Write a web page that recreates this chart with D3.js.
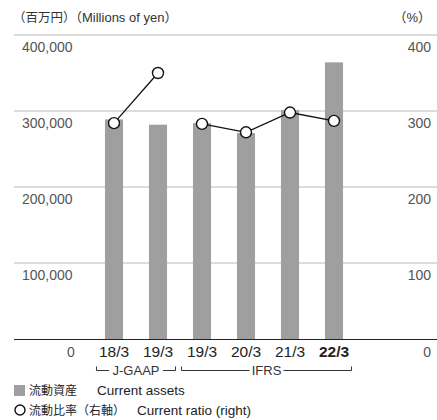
<!DOCTYPE html>
<html>
<head>
<meta charset="utf-8">
<script src="https://cdn.jsdelivr.net/npm/d3@7"></script>
<style>
  body { margin: 0; background: #fff; }
  svg { font-family: "Liberation Sans", Arial, "Noto Sans CJK JP", sans-serif; }
</style>
</head>
<body>
<svg width="437" height="420"></svg>
<script>
var svg = d3.select('svg');

// data
var periods = ['18/3', '19/3', '19/3', '20/3', '21/3', '22/3'];
var standard = ['J-GAAP', 'J-GAAP', 'IFRS', 'IFRS', 'IFRS', 'IFRS'];
var currentAssets = [289000, 282000, 284000, 271000, 301000, 364000];
var currentRatio = [284, 350, 283, 272, 298, 287];
var leftTicks = [100000, 200000, 300000, 400000];
var rightTicks = [100, 200, 300, 400];

var idx = d3.range(periods.length);

var x = d3.scaleBand()
    .domain(idx)
    .range([92, 356])
    .paddingInner(0.59)
    .paddingOuter(0.295);

var yLeft = d3.scaleLinear().domain([0, 400000]).range([339, 35]);
var yRight = d3.scaleLinear().domain([0, 400]).range([339, 35]);

var fmt = d3.format(',d');

// small helper: japanese part a bit smaller than latin part
function mixed(sel, parts) {
    parts.forEach(function(p) {
        var t = sel.append('tspan').attr('font-size', p[1]).text(p[0]);
        if (p[2] != null) t.attr('x', p[2]);
    });
}

// header
mixed(svg.append('text').attr('x', 13).attr('y', 22).attr('fill', '#333'),
    [['（百万円）', 12.5], ['（Millions of yen）', 13]]);
svg.append('text')
    .attr('x', 431).attr('y', 22)
    .attr('text-anchor', 'end')
    .attr('font-size', 13).attr('fill', '#333')
    .text('（%）');

// gridlines
svg.append('g').selectAll('line')
    .data(leftTicks)
    .enter().append('line')
    .attr('x1', 14).attr('x2', 437)
    .attr('y1', function(d) { return yLeft(d); })
    .attr('y2', function(d) { return yLeft(d); })
    .attr('stroke', '#dcdcdc')
    .attr('stroke-width', 2);

// left labels
svg.append('g').selectAll('text')
    .data(leftTicks)
    .enter().append('text')
    .attr('x', 22)
    .attr('y', function(d) { return yLeft(d) + 17; })
    .attr('font-size', 14).attr('fill', '#555')
    .text(function(d) { return fmt(d); });

// right labels
svg.append('g').selectAll('text')
    .data(rightTicks)
    .enter().append('text')
    .attr('x', 431)
    .attr('y', function(d) { return yRight(d) + 17; })
    .attr('text-anchor', 'end')
    .attr('font-size', 14).attr('fill', '#555')
    .text(function(d) { return d; });

// bars
svg.append('g').selectAll('rect')
    .data(idx)
    .enter().append('rect')
    .attr('x', function(i) { return x(i); })
    .attr('width', x.bandwidth())
    .attr('y', function(i) { return yLeft(currentAssets[i]); })
    .attr('height', function(i) { return yLeft(0) - yLeft(currentAssets[i]); })
    .attr('fill', '#9f9f9f');

// baseline
svg.append('line')
    .attr('x1', 14).attr('x2', 437)
    .attr('y1', yLeft(0) + 0.5).attr('y2', yLeft(0) + 0.5)
    .attr('stroke', '#222').attr('stroke-width', 1.2);

// zero labels
svg.append('text')
    .attr('x', 67).attr('y', 357)
    .attr('font-size', 14).attr('fill', '#555')
    .text('0');
svg.append('text')
    .attr('x', 431).attr('y', 357)
    .attr('text-anchor', 'end')
    .attr('font-size', 14).attr('fill', '#555')
    .text('0');

// category labels
svg.append('g').selectAll('text')
    .data(idx)
    .enter().append('text')
    .attr('x', function(i) { return x(i) + x.bandwidth() / 2; })
    .attr('y', 357)
    .attr('text-anchor', 'middle')
    .attr('font-size', 15.5)
    .attr('font-weight', function(i) { return i === idx.length - 1 ? 'bold' : 'normal'; })
    .attr('fill', '#222')
    .text(function(i) { return periods[i]; });

// ratio lines, split by accounting standard
var cx = function(i) { return x(i) + x.bandwidth() / 2; };
var line = d3.line()
    .x(function(i) { return cx(i); })
    .y(function(i) { return yRight(currentRatio[i]); });

var groups = d3.groups(idx, function(i) { return standard[i]; });
svg.append('g').selectAll('path')
    .data(groups)
    .enter().append('path')
    .attr('d', function(g) { return line(g[1]); })
    .attr('fill', 'none')
    .attr('stroke', '#111')
    .attr('stroke-width', 1.3);

svg.append('g').selectAll('circle')
    .data(idx)
    .enter().append('circle')
    .attr('cx', cx)
    .attr('cy', function(i) { return yRight(currentRatio[i]); })
    .attr('r', 5.5)
    .attr('fill', '#fff')
    .attr('stroke', '#111')
    .attr('stroke-width', 1.4);

// standard brackets
var brk = svg.append('g').attr('stroke', '#333').attr('stroke-width', 1).attr('fill', 'none');
var by = 370.5;
groups.forEach(function(g) {
    var ids = g[1];
    var x0 = x(ids[0]) - 8.5;
    var x1 = x(ids[ids.length - 1]) + x.bandwidth() + 8.5;
    if (g[0] === 'IFRS') { x0 = x(ids[0]) - 11.5; }
    var label = g[0];
    var mid = (x0 + x1) / 2;
    var halfW = label === 'J-GAAP' ? 27 : 17;
    brk.append('path')
        .attr('d', 'M' + x0 + ',' + (by - 4) + 'V' + by + 'H' + (mid - halfW));
    brk.append('path')
        .attr('d', 'M' + (mid + halfW) + ',' + by + 'H' + x1 + 'V' + (by - 4));
    svg.append('text')
        .attr('x', mid).attr('y', by + 4.5)
        .attr('text-anchor', 'middle')
        .attr('font-size', 13).attr('fill', '#333')
        .text(label);
});

// legend
svg.append('rect')
    .attr('x', 14).attr('y', 385)
    .attr('width', 11).attr('height', 11)
    .attr('fill', '#9f9f9f');
mixed(svg.append('text').attr('x', 29).attr('y', 395).attr('fill', '#222'),
    [['流動資産', 12], ['Current assets', 13.5, 97]]);

svg.append('circle')
    .attr('cx', 20).attr('cy', 410)
    .attr('r', 5)
    .attr('fill', '#fff')
    .attr('stroke', '#111')
    .attr('stroke-width', 1.4);
mixed(svg.append('text').attr('x', 29).attr('y', 415).attr('fill', '#222'),
    [['流動比率（右軸）', 12], ['Current ratio (right)', 13.5, 137]]);
</script>
</body>
</html>
